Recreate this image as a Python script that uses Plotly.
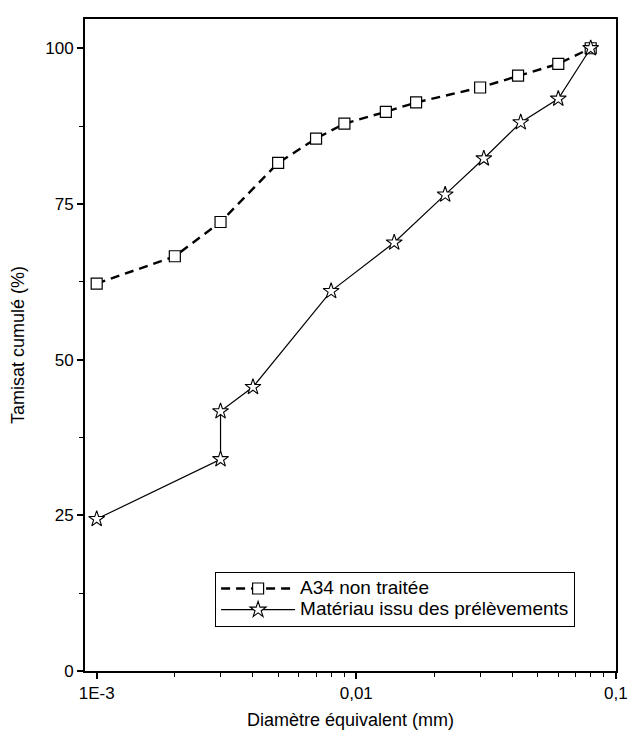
import plotly.graph_objects as go

# Data
a34_x = [0.001, 0.002, 0.003, 0.005, 0.007, 0.009, 0.013, 0.017, 0.03, 0.042, 0.06, 0.08]
a34_y = [62.2, 66.6, 72.1, 81.6, 85.5, 87.9, 89.8, 91.3, 93.7, 95.6, 97.5, 100.0]

mat_x = [0.001, 0.003, 0.003, 0.004, 0.008, 0.014, 0.022, 0.031, 0.043, 0.06, 0.08]
mat_y = [24.4, 34.0, 41.7, 45.6, 61.0, 68.8, 76.5, 82.3, 88.1, 91.9, 100.0]

series_names = ["A34 non traitée", "Matériau issu des prélèvements"]

x_tickvals = [0.001, 0.01, 0.1]
x_ticktext = ["1E-3", "0,01", "0,1"]
y_tickvals = [0, 25, 50, 75, 100]

minor_x = [k * 10 ** e for e in (-3, -2) for k in range(2, 10)]

FAM = "Liberation Sans, Arial, sans-serif"
font = dict(family=FAM, size=17, color="black")
title_font = dict(family=FAM, size=18, color="black")


def legend_label(s):
    return "<span style='font-size:19px'>" + s + "</span>"


fig = go.Figure()
fig.add_trace(go.Scatter(
    x=a34_x, y=a34_y, mode="lines+markers", name=legend_label(series_names[0]),
    line=dict(color="black", width=2.4, dash="9px,6px"),
    marker=dict(symbol="square", size=11, color="white", line=dict(width=1.2, color="black")),
))
fig.add_trace(go.Scatter(
    x=mat_x, y=mat_y, mode="lines+markers", name=legend_label(series_names[1]),
    line=dict(color="black", width=1.2),
    marker=dict(symbol="star", size=12, color="white", line=dict(width=1.1, color="black")),
))

fig.update_layout(
    width=628, height=733,
    margin=dict(l=85, r=12, t=19, b=62),
    paper_bgcolor="white", plot_bgcolor="white",
    font=font,
    showlegend=True,
    legend=dict(
        x=0.245, y=0.152, xanchor="left", yanchor="top",
        bordercolor="black", borderwidth=1, bgcolor="white",
        font=dict(family=FAM, size=14, color="black"),
        tracegroupgap=0, itemwidth=74,
    ),
    xaxis=dict(
        type="log", range=[-3.045, -0.9995], automargin=False,
        tickmode="array", tickvals=x_tickvals, ticktext=x_ticktext,
        ticks="outside", ticklen=6, tickwidth=1.5, tickcolor="black",
        minor=dict(tickmode="array", tickvals=minor_x, ticks="outside", ticklen=4, tickwidth=1, tickcolor="black"),
        showline=True, linecolor="black", linewidth=2, mirror=True,
        showgrid=False, zeroline=False,
        tickfont=font,
    ),
    yaxis=dict(
        range=[0, 104.7], automargin=False,
        tickmode="array", tickvals=y_tickvals,
        ticks="outside", ticklen=6, tickwidth=1.5, tickcolor="black",
        minor=dict(dtick=12.5, ticks="outside", ticklen=4, tickwidth=1, tickcolor="black"),
        showline=True, linecolor="black", linewidth=2, mirror=True,
        showgrid=False, zeroline=False,
        tickfont=font,
    ),
    annotations=[
        dict(text="Diamètre équivalent (mm)", xref="paper", yref="paper", x=0.5, y=0,
             xanchor="center", yanchor="middle", yshift=-49, showarrow=False, font=title_font),
        dict(text="Tamisat cumulé (%)", xref="paper", yref="paper", x=0, y=0.5,
             xanchor="center", yanchor="middle", xshift=-67, textangle=-90,
             showarrow=False, font=title_font),
    ],
)

fig.write_html(
    "out.html",
    config={"displayModeBar": False},
    post_script="document.body.style.margin='0px';document.documentElement.style.overflow='hidden';",
)
